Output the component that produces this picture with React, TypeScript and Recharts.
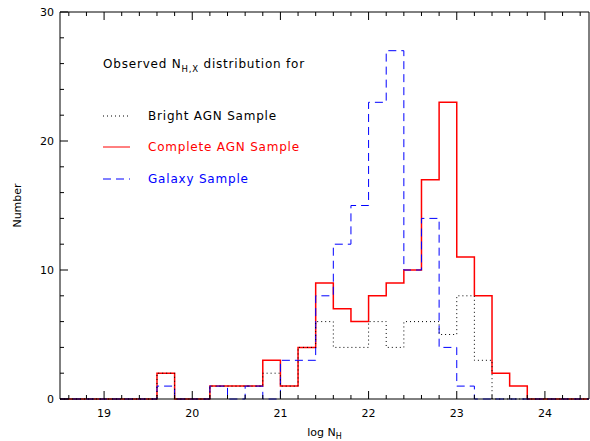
import React from 'react';
import { LineChart, Line, XAxis, YAxis, Label } from 'recharts';

// bin starts (width 0.2 in log N_H), 18.6 .. 24.4
const binStarts = [
  18.6, 18.8, 19.0, 19.2, 19.4, 19.6, 19.8, 20.0, 20.2, 20.4,
  20.6, 20.8, 21.0, 21.2, 21.4, 21.6, 21.8, 22.0, 22.2, 22.4,
  22.6, 22.8, 23.0, 23.2, 23.4, 23.6, 23.8, 24.0, 24.2, 24.4,
];

const brightAGN = [
  0, 0, 0, 0, 0, 2, 0, 0, 1, 1,
  1, 2, 1, 4, 6, 4, 4, 6, 4, 6,
  6, 5, 8, 3, 0, 0, 0, 0, 0, 0,
];

const completeAGN = [
  0, 0, 0, 0, 0, 2, 0, 0, 1, 1,
  1, 3, 1, 4, 9, 7, 6, 8, 9, 10,
  17, 23, 11, 8, 2, 1, 0, 0, 0, 0,
];

const galaxy = [
  0, 0, 0, 0, 0, 1, 0, 0, 1, 0,
  1, 0, 3, 3, 8, 12, 15, 23, 27, 10,
  14, 4, 1, 0, 0, 0, 0, 0, 0, 0,
];

const X_MIN = 18.5;
const X_MAX = 24.5;
const xMajor = [19, 20, 21, 22, 23, 24];
const yMajor = [0, 10, 20, 30];

// minor ticks every 0.2 on x, every 2 on y
const xTicks: number[] = [];
for (let i = 0; i < 30; i++) xTicks.push(Math.round((18.6 + i * 0.2) * 10) / 10);
const yTicks: number[] = [];
for (let v = 0; v <= 30; v += 2) yTicks.push(v);

const data = [
  { x: X_MIN, bright: 0, complete: 0, galaxy: 0 },
  ...binStarts.map((x, i) => ({
    x,
    bright: brightAGN[i],
    complete: completeAGN[i],
    galaxy: galaxy[i],
  })),
  {
    x: X_MAX,
    bright: brightAGN[brightAGN.length - 1],
    complete: completeAGN[completeAGN.length - 1],
    galaxy: galaxy[galaxy.length - 1],
  },
];

const FONT = '"DejaVu Sans", sans-serif';
const isXMajor = (v: number) => xMajor.some(m => Math.abs(m - v) < 1e-6);
const isYMajor = (v: number) => yMajor.includes(v);

const BottomTick = (props: any) => {
  const { x, y, payload } = props;
  const major = isXMajor(payload.value);
  return (
    <g>
      <line x1={x} x2={x} y1={y} y2={y - (major ? 8 : 4)} stroke="#000" />
      {major && (
        <text x={x} y={y + 18} textAnchor="middle" fontFamily={FONT} fontSize={11} fill="#000">
          {Math.round(payload.value)}
        </text>
      )}
    </g>
  );
};

const TopTick = (props: any) => {
  const { x, y, payload } = props;
  const major = isXMajor(payload.value);
  return <line x1={x} x2={x} y1={y} y2={y + (major ? 8 : 4)} stroke="#000" />;
};

const LeftTick = (props: any) => {
  const { x, y, payload } = props;
  const major = isYMajor(payload.value);
  return (
    <g>
      <line x1={x} x2={x + (major ? 8 : 4)} y1={y} y2={y} stroke="#000" />
      {major && (
        <text x={x - 6} y={y + 4} textAnchor="end" fontFamily={FONT} fontSize={11} fill="#000">
          {payload.value}
        </text>
      )}
    </g>
  );
};

const RightTick = (props: any) => {
  const { x, y, payload } = props;
  const major = isYMajor(payload.value);
  return <line x1={x} x2={x - (major ? 8 : 4)} y1={y} y2={y} stroke="#000" />;
};

const XTitle = (props: any) => {
  const { viewBox } = props;
  const cx = viewBox.x + viewBox.width / 2;
  return (
    <text x={cx} y={viewBox.y + 37} textAnchor="middle" fontFamily={FONT} fontSize={11} fill="#000">
      log N<tspan fontSize={8} dy={3}>H</tspan>
    </text>
  );
};

const YTitle = (props: any) => {
  const { viewBox } = props;
  const cy = viewBox.y + viewBox.height / 2;
  const cx = 21;
  return (
    <text
      x={cx}
      y={cy}
      transform={`rotate(-90 ${cx} ${cy})`}
      textAnchor="middle"
      fontFamily={FONT}
      fontSize={11}
      fill="#000"
    >
      Number
    </text>
  );
};

const legendItems = [
  { label: 'Bright AGN Sample', color: '#000000', dash: '1 3', y: 116 },
  { label: 'Complete AGN Sample', color: '#ff0000', dash: undefined, y: 147 },
  { label: 'Galaxy Sample', color: '#0000ff', dash: '8 5', y: 179 },
];

const App: React.FC = () => {
  return (
    <div style={{ position: 'absolute', left: 0, top: 0, width: 590, height: 441, background: '#fff' }}>
      <LineChart
        width={590}
        height={441}
        data={data}
        margin={{ top: 11, right: 0, bottom: 41, left: 59 }}
      >
        <XAxis
          dataKey="x"
          type="number"
          domain={[X_MIN, X_MAX]}
          ticks={xTicks}
          interval={0}
          height={1}
          tickSize={0}
          tickMargin={0}
          tickLine={false}
          tick={BottomTick}
          axisLine={{ stroke: '#000' }}
        >
          <Label content={XTitle} />
        </XAxis>
        <XAxis
          xAxisId="top"
          orientation="top"
          dataKey="x"
          type="number"
          domain={[X_MIN, X_MAX]}
          ticks={xTicks}
          interval={0}
          height={1}
          tickSize={0}
          tickMargin={0}
          tickLine={false}
          tick={TopTick}
          axisLine={{ stroke: '#000' }}
        />
        <YAxis
          type="number"
          domain={[0, 30]}
          ticks={yTicks}
          interval={0}
          width={1}
          tickSize={0}
          tickMargin={0}
          tickLine={false}
          tick={LeftTick}
          axisLine={{ stroke: '#000' }}
        >
          <Label content={YTitle} />
        </YAxis>
        <YAxis
          yAxisId="right"
          orientation="right"
          type="number"
          domain={[0, 30]}
          ticks={yTicks}
          interval={0}
          width={1}
          tickSize={0}
          tickMargin={0}
          tickLine={false}
          tick={RightTick}
          axisLine={{ stroke: '#000' }}
        />
        <Line
          type="stepAfter"
          dataKey="complete"
          stroke="#ff0000"
          strokeWidth={1.5}
          dot={false}
          isAnimationActive={false}
        />
        <Line
          type="stepAfter"
          dataKey="galaxy"
          stroke="#0000ff"
          strokeWidth={1}
          strokeDasharray="8 5"
          dot={false}
          isAnimationActive={false}
        />
        <Line
          type="stepAfter"
          dataKey="bright"
          stroke="#000000"
          strokeWidth={1}
          strokeDasharray="1 3"
          dot={false}
          isAnimationActive={false}
        />
      </LineChart>
      <svg
        width={590}
        height={441}
        style={{ position: 'absolute', left: 0, top: 0, pointerEvents: 'none' }}
      >
        <text x={103} y={68} fontFamily={FONT} fontSize={12} letterSpacing={0.8} fill="#000">
          Observed N<tspan fontSize={8.5} dy={4}>H,X</tspan>
          <tspan dy={-4}> distribution for</tspan>
        </text>
        {legendItems.map(item => (
          <g key={item.label}>
            <line
              x1={103}
              x2={130}
              y1={item.y}
              y2={item.y}
              stroke={item.color}
              strokeWidth={1}
              strokeDasharray={item.dash}
            />
            <text
              x={148}
              y={item.y + 4}
              fontFamily={FONT}
              fontSize={12}
              letterSpacing={0.8}
              fill={item.color}
            >
              {item.label}
            </text>
          </g>
        ))}
      </svg>
    </div>
  );
};

export default App;
